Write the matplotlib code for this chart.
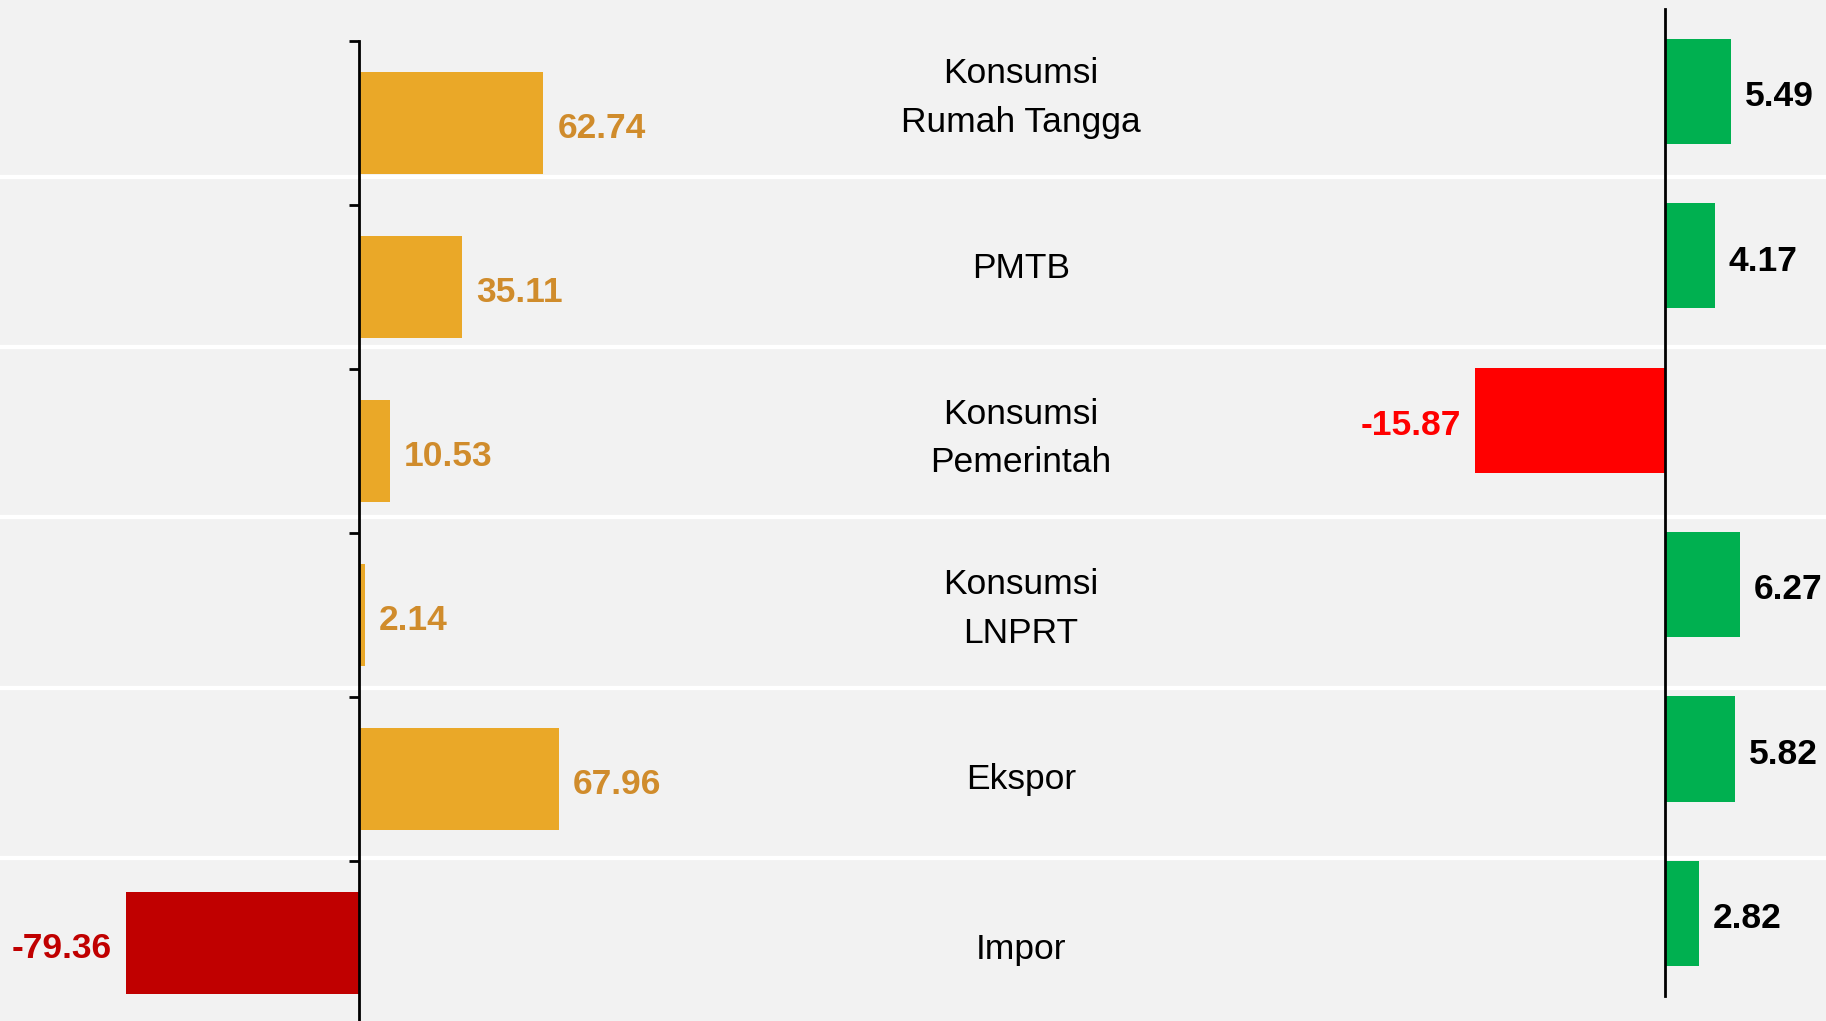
import matplotlib
matplotlib.use("Agg")
import matplotlib.pyplot as plt

categories = ["Konsumsi\nRumah Tangga", "PMTB", "Konsumsi\nPemerintah",
              "Konsumsi\nLNPRT", "Ekspor", "Impor"]
left_values = [62.74, 35.11, 10.53, 2.14, 67.96, -79.36]
right_values = [5.49, 4.17, -15.87, 6.27, 5.82, 2.82]

bg = "#F2F2F2"
font = ["Liberation Sans", "DejaVu Sans"]

W, H = 1826, 1021
fig = plt.figure(figsize=(W / 100, H / 100), dpi=100, facecolor=bg)

# background axes: white row separators + category names
back = fig.add_axes([0, 0, 1, 1])
back.set_facecolor(bg)
back.set_xlim(0, 1)
back.set_ylim((H - 92) / 170.2, -92 / 170.2)
back.axis("off")
for k in range(1, len(categories)):
    back.axhline(k - 0.5, color="white", lw=3, zorder=1)
for k, cat in enumerate(categories):
    back.annotate(cat, xy=(1021 / W, k), xytext=(0, -4.5), textcoords="offset points",
                  ha="center", va="center", fontsize=25.5, family=font,
                  linespacing=1.6, color="black")


def value_labels(ax, values, pos_color, neg_color):
    for k, v in enumerate(values):
        if v >= 0:
            ax.annotate(f"{v:.2f}", xy=(v, k), xytext=(10, -3.8), textcoords="offset points",
                        ha="left", va="center", fontsize=25.5, fontweight="bold",
                        family=font, color=pos_color)
        else:
            ax.annotate(f"{v:.2f}", xy=(v, k), xytext=(-10, -3.8), textcoords="offset points",
                        ha="right", va="center", fontsize=25.5, fontweight="bold",
                        family=font, color=neg_color)


pos = list(range(len(categories)))

# left chart
ax1 = fig.add_axes([0, (H - 1025) / H, 0.5, 984.2 / H])
ax1.patch.set_visible(False)
ax1.set_xlim(-359 / 2.94, (W / 2 - 359) / 2.94)
ax1.set_ylim(5.5, -0.5)
left_colors = ["#EAA828" if v >= 0 else "#C00000" for v in left_values]
ax1.barh(pos, left_values, height=0.62, color=left_colors, zorder=2)
value_labels(ax1, left_values, "#D08C2C", "#C00000")
for s in ["top", "right", "bottom"]:
    ax1.spines[s].set_visible(False)
ax1.spines["left"].set_position(("data", 0))
ax1.spines["left"].set_linewidth(2)
ax1.set_xticks([])
ax1.set_yticks([k - 0.5 for k in pos])
ax1.set_yticklabels([])
ax1.tick_params(axis="y", length=7, width=2, direction="out")

# right chart
ax2 = fig.add_axes([0.5, (H - 995.6) / H, 0.5, 986.3 / H])
ax2.patch.set_visible(False)
ax2.set_xlim(-(1665 - W / 2) / 12.0, (W - 1665) / 12.0)
ax2.set_ylim(5.5, -0.5)
right_colors = ["#00B050" if v >= 0 else "#FF0000" for v in right_values]
ax2.barh(pos, right_values, height=0.64, color=right_colors, zorder=2)
value_labels(ax2, right_values, "black", "#FF0000")
for s in ["top", "right", "bottom"]:
    ax2.spines[s].set_visible(False)
ax2.spines["left"].set_position(("data", 0))
ax2.spines["left"].set_linewidth(2)
ax2.set_xticks([])
ax2.set_yticks([])

fig.savefig("out.png", dpi=100, facecolor=bg)
